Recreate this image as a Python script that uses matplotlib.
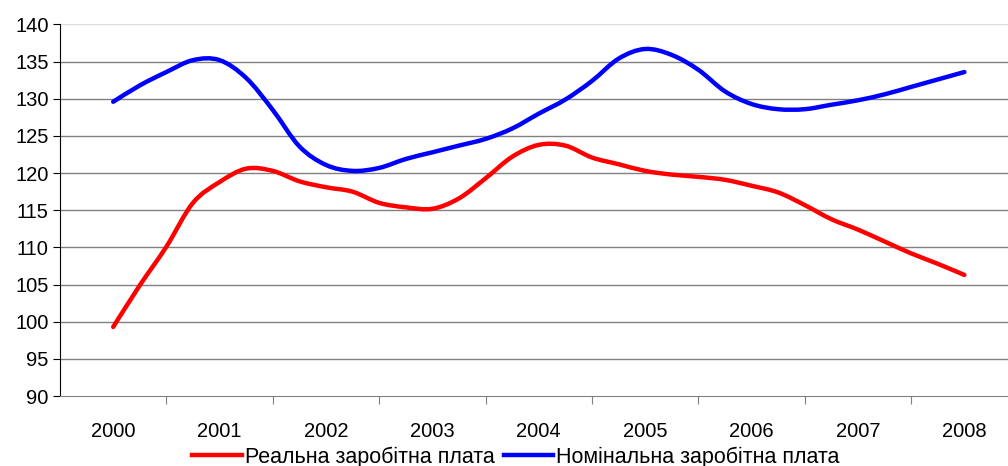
import numpy as np
import matplotlib.pyplot as plt
from matplotlib.path import Path
from matplotlib.patches import PathPatch
from matplotlib.lines import Line2D

plt.rcParams['font.family'] = ['Liberation Sans', 'DejaVu Sans']

# Роки (категорії) та квартальні точки
years = ['2000', '2001', '2002', '2003', '2004', '2005', '2006', '2007', '2008']
t = np.arange(33) / 4.0

real_wage = [99.3, 104.9, 110.1, 116.0, 118.8, 120.6, 120.3, 118.9,
             118.1, 117.5, 116.0, 115.4, 115.2, 116.6, 119.3, 122.2,
             123.8, 123.7, 122.1, 121.2, 120.3, 119.8, 119.5, 119.1,
             118.3, 117.4, 115.7, 113.8, 112.4, 110.8, 109.2, 107.8,
             106.3]
nominal_wage = [129.6, 131.8, 133.6, 135.2, 135.2, 132.8, 128.5, 123.6,
                121.1, 120.3, 120.7, 121.9, 122.8, 123.7, 124.6, 126.0,
                128.0, 129.9, 132.4, 135.4, 136.7, 135.9, 133.9, 131.0,
                129.3, 128.6, 128.6, 129.2, 129.8, 130.6, 131.6, 132.6,
                133.6]


def smooth_path(x, y, k=1/6):
    # згладжена лінія як в Excel (Безьє через точки)
    x = np.asarray(x, float)
    y = np.asarray(y, float)
    n = len(x)
    verts = [(x[0], y[0])]
    codes = [Path.MOVETO]
    for i in range(n - 1):
        i0 = max(i - 1, 0)
        i3 = min(i + 2, n - 1)
        c1 = (x[i] + (x[i + 1] - x[i0]) * k, y[i] + (y[i + 1] - y[i0]) * k)
        c2 = (x[i + 1] - (x[i3] - x[i]) * k, y[i + 1] - (y[i3] - y[i]) * k)
        verts += [c1, c2, (x[i + 1], y[i + 1])]
        codes += [Path.CURVE4] * 3
    return Path(verts, codes)


fig = plt.figure(figsize=(10.08, 4.66), dpi=100)
ax = fig.add_axes([0.0595, 0.150, 0.950, 0.7975])

for vals, col in [(real_wage, '#ff0000'), (nominal_wage, '#0000ff')]:
    ax.add_patch(PathPatch(smooth_path(t, vals), fill=False, edgecolor=col,
                           lw=3.2, capstyle='round', zorder=3))

ax.set_xlim(-0.5, 8.5)
ax.set_ylim(90, 140)
ax.set_yticks(np.arange(90, 141, 5))
for v in np.arange(95, 141, 5):
    ax.axhline(v, color='#dddddd' if v == 140 else '#808080', lw=1, zorder=0)

ax.set_xticks(np.arange(0.5, 8.5, 1))
ax.set_xticklabels([])
ax.set_xticks(np.arange(9), minor=True)
ax.set_xticklabels(years, minor=True)
ax.tick_params(axis='x', which='major', length=6, color='#808080', direction='out')
ax.tick_params(axis='x', which='minor', length=0, pad=19, labelsize=14.5)
ax.tick_params(axis='y', length=5, pad=3, labelsize=14.5)

for s in ['top', 'right']:
    ax.spines[s].set_visible(False)
ax.spines['bottom'].set_color('#808080')
ax.spines['left'].set_color('black')

handles = [Line2D([], [], color='#ff0000', lw=3.2),
           Line2D([], [], color='#0000ff', lw=3.2)]
fig.legend(handles, ['Реальна заробітна плата', 'Номінальна заробітна плата'],
           loc='lower center', bbox_to_anchor=(0.512, -0.045),
           ncol=2, frameon=False, fontsize=15.5, handlelength=2.3,
           handletextpad=0.15, columnspacing=0.4)

fig.savefig('out.png', dpi=100)
